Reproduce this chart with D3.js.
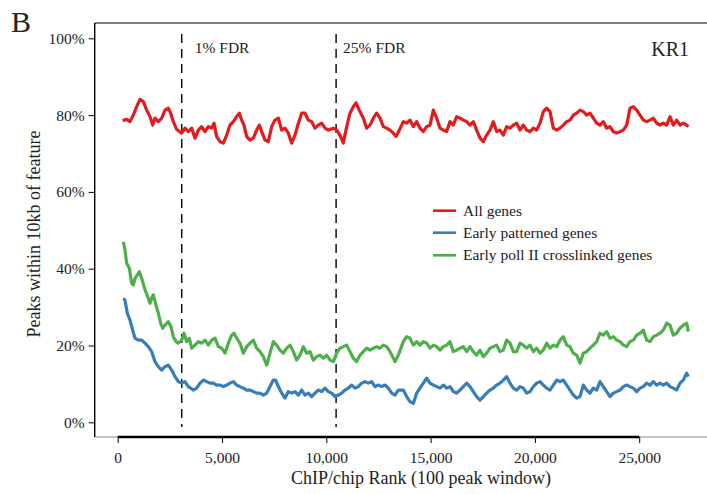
<!DOCTYPE html>
<html><head><meta charset="utf-8">
<script src="https://cdn.jsdelivr.net/npm/d3@7/dist/d3.min.js"></script>
<style>body{margin:0;background:#fff}svg{display:block;font-family:"Liberation Serif","Times New Roman",serif}</style>
</head><body><svg id="c" width="707" height="494"></svg>
<script>
// ---- data ----
const seriesNames = ["All genes", "Early patterned genes", "Early poll II crosslinked genes"];
const seriesColors = ["#E41A1C", "#377EB8", "#4DAF4A"];
const xTicks = [0, 5000, 10000, 15000, 20000, 25000];
const yTicks = [0, 20, 40, 60, 80, 100];
const fdrRanks = [3070, 10470];
const fdrLabels = ["1% FDR", "25% FDR"];

// first part of each curve: [rank, percent]
const redHead = [[238,78.5],[430,78.9],[590,78.3],[749,80.0],[909,82.2],[1069,84.1],[1229,83.5],[1389,81.3],[1548,79.6],[1676,77.4],[1788,79.2],[1948,78.3],[2108,79.2],[2268,81.3],[2427,81.8],[2539,80.5],[2667,78.3],[2827,76.3],[3067,75.3],[3226,76.6],[3386,75.7],[3546,76.6],[3706,74.0],[3866,76.1],[4025,77.0],[4185,75.7],[4345,77.0],[4505,76.6],[4617,77.9],[4745,74.4],[4904,73.1],[5064,72.7],[5224,74.8],[5384,77.4],[5543,78.3],[5703,79.6],[5831,80.5],[5943,78.7],[6055,77.4],[6183,74.4],[6343,73.5],[6502,74.0],[6662,76.1],[6790,77.4],[6902,75.7],[7062,73.5],[7221,73.1],[7381,77.0],[7541,78.7],[7701,79.2],[7861,76.1],[8020,76.6],[8180,75.3],[8340,72.7],[8500,74.8],[8659,77.9],[8819,80.5],[8979,80.5],[9139,78.7],[9299,78.3],[9459,76.6],[9618,77.4],[9778,77.9],[9938,76.6],[10098,76.1],[10337,76.6],[10497,76.1],[10657,74.8],[10817,72.7],[10977,77.0],[11136,80.5],[11296,82.2],[11424,83.2],[11584,81.3],[11776,79.2],[11936,76.6],[12095,77.4],[12255,79.2],[12415,80.5],[12575,79.2],[12734,77.0],[12894,76.6],[13054,76.1],[13214,75.3],[13342,74.4],[13502,76.1]];
const blueHead = [[270,32.3],[350,31.8],[462,28.4],[590,26.6],[717,24.0],[829,21.9],[989,21.4],[1149,21.4],[1309,20.6],[1469,19.7],[1628,18.4],[1788,15.8],[1948,14.5],[2108,13.6],[2268,14.5],[2427,14.9],[2587,13.6],[2747,11.9],[2907,10.6],[3067,10.2],[3226,10.6],[3386,9.3],[3626,8.4],[3786,8.9],[3946,10.2],[4105,11.0],[4265,10.6],[4425,10.2],[4585,10.2],[4744,9.7],[4904,9.7],[5064,9.3],[5224,9.7],[5384,10.2],[5543,10.6],[5703,9.7],[5863,9.3],[6023,8.9],[6183,8.4],[6342,8.4],[6502,8.0],[6662,7.6],[6822,7.6],[6982,7.1],[7142,7.6],[7302,9.3],[7461,11.0],[7573,11.0],[7701,9.3],[7861,7.6],[8020,6.3],[8180,8.0],[8340,7.6],[8500,8.0],[8660,7.1],[8820,8.4],[8979,7.1],[9139,7.6],[9299,6.7],[9459,7.6],[9619,8.4],[9778,8.0],[9938,8.9],[10098,8.0],[10258,7.6],[10417,6.7],[10577,7.1],[10737,7.6],[10897,8.4],[11057,8.9],[11217,9.7],[11376,8.9],[11536,9.3],[11696,10.2],[11856,10.6],[12015,10.2],[12175,10.6],[12335,9.3],[12495,9.7],[12655,9.3],[12814,9.7],[12974,8.9],[13134,7.6],[13294,7.1],[13454,8.4]];
const greenHead = [[270,47.0],[350,44.9],[430,41.4],[558,40.1],[670,36.2],[750,35.8],[829,37.5],[941,38.4],[1037,39.2],[1149,37.5],[1309,34.5],[1469,32.3],[1549,31.0],[1628,32.3],[1708,33.2],[1836,30.5],[1948,28.4],[2060,25.8],[2156,24.5],[2268,25.3],[2427,26.2],[2555,24.9],[2667,22.3],[2795,21.0],[2907,20.6],[3067,21.4],[3178,23.2],[3306,21.0],[3434,21.9],[3546,19.3],[3706,20.1],[3866,21.0],[4025,20.6],[4185,21.4],[4345,20.1],[4505,21.4],[4665,21.9],[4824,19.7],[4984,19.3],[5144,18.0],[5304,20.6],[5464,22.7],[5575,23.2],[5703,21.9],[5863,20.6],[6023,18.0],[6183,19.7],[6342,20.6],[6502,21.4],[6662,19.3],[6822,18.4],[6982,17.1],[7142,14.9],[7302,18.0],[7461,21.0],[7621,20.1],[7781,18.8],[7941,18.0],[8100,19.3],[8260,20.1],[8420,18.4],[8580,16.2],[8740,17.5],[8900,19.7],[9059,18.0],[9219,18.4],[9379,16.2],[9539,17.1],[9698,17.5],[9858,16.7],[10018,17.5],[10178,16.2],[10338,15.8],[10497,18.0],[10657,19.3],[10817,19.7],[10977,20.1],[11137,18.4],[11296,16.7],[11456,15.8],[11616,17.5],[11776,18.4],[11936,19.3],[12095,18.8],[12255,19.3],[12415,19.7],[12575,19.3],[12735,20.1],[12894,19.7],[13054,18.4],[13214,16.7],[13294,15.8],[13454,17.5]];

// second part of each curve: shared ranks, then percent per series
const tailRanks = [13693,13853,14012,14172,14332,14492,14652,14811,14971,15131,15291,15451,15610,15770,15930,16090,16250,16409,16569,16729,16889,17049,17208,17368,17528,17688,17848,18007,18167,18327,18487,18647,18806,18966,19126,19286,19446,19605,19765,19925,20085,20245,20404,20564,20724,20884,21044,21203,21363,21523,21683,21843,22002,22162,22322,22482,22642,22801,22961,23121,23281,23441,23600,23760,23920,24080,24240,24399,24559,24719,24879,25039,25198,25358,25518,25678,25838,25997,26157,26317,26477,26637,26796,26956,27116,27276,27356];
const redTail = [78.3,77.9,78.7,77.0,78.3,76.6,75.7,77.0,77.4,81.3,79.2,76.6,76.1,75.7,78.3,77.4,79.6,79.2,78.7,78.3,77.4,78.3,76.1,74.0,73.1,74.8,76.1,78.3,75.7,76.1,74.8,77.0,76.6,77.4,77.9,76.1,77.4,76.1,75.7,76.6,76.1,77.9,80.9,81.8,80.9,76.6,76.1,76.6,77.4,78.3,78.7,80.0,80.5,81.3,80.9,80.0,80.5,79.2,77.9,77.4,78.3,76.6,77.0,75.7,75.3,75.7,76.1,77.4,81.8,82.2,81.3,80.0,78.7,78.3,78.7,79.2,77.9,77.4,77.9,77.4,79.6,77.4,78.7,77.4,77.9,77.4,77.0];
const blueTail = [8.4,6.7,5.4,4.9,7.6,8.9,10.2,11.5,10.2,9.7,9.3,8.9,9.7,8.9,9.3,8.0,7.6,8.4,9.3,10.2,9.3,8.0,6.7,5.8,6.7,7.6,8.4,8.9,9.7,10.2,11.0,11.9,10.2,8.9,8.4,9.3,8.9,7.6,8.0,9.3,10.2,10.6,9.7,8.9,8.4,9.7,11.0,10.6,11.0,9.7,8.4,7.1,6.3,6.7,9.7,8.4,7.6,8.9,8.4,10.6,9.3,8.0,6.7,7.6,8.0,8.4,9.3,9.7,9.3,8.9,8.0,8.9,9.3,10.2,9.7,10.6,9.7,10.2,9.7,10.2,9.3,8.9,8.4,10.2,11.0,12.8,11.9];
const greenTail = [21.0,22.3,21.9,20.1,21.0,20.1,21.0,20.6,19.3,20.1,19.7,18.8,19.7,20.1,21.0,18.4,18.8,19.3,19.7,18.4,19.7,18.4,17.5,18.8,17.1,18.0,19.3,19.7,20.1,18.4,18.8,21.4,20.6,18.4,18.4,20.6,20.1,19.3,20.1,18.4,19.3,18.0,18.8,20.6,19.3,20.1,19.7,21.4,22.3,20.1,19.7,18.0,17.5,15.4,18.0,18.4,19.3,20.1,21.0,23.2,22.7,23.6,21.9,22.3,21.4,21.0,20.1,19.7,21.0,21.4,22.7,23.2,24.0,21.4,21.0,22.3,22.7,23.2,24.0,25.8,25.3,22.7,23.2,24.5,25.3,25.8,23.6];

// ---- drawing ----
const svg = d3.select("#c");
const x = d3.scaleLinear().domain([0, 25000]).range([117.7, 639.2]);
const y = d3.scaleLinear().domain([0, 100]).range([422.3, 38.3]);
const ink = "#222";

const frame = {left: 94.7, top: 23, right: 707, bottom: 437};

// frame lines
svg.append("line").attr("x1", frame.left).attr("x2", frame.right).attr("y1", frame.top).attr("y2", frame.top)
  .attr("stroke", "#000").attr("stroke-width", 1.2);
svg.append("line").attr("x1", frame.left).attr("x2", frame.left).attr("y1", frame.top).attr("y2", frame.bottom)
  .attr("stroke", "#000").attr("stroke-width", 1.4);
svg.append("line").attr("x1", frame.left).attr("x2", frame.right).attr("y1", frame.bottom).attr("y2", frame.bottom)
  .attr("stroke", "#888").attr("stroke-width", 1.2);

// x axis
const xAxis = d3.axisBottom(x).tickValues(xTicks).tickSize(6).tickPadding(9)
  .tickFormat(d3.format(","));
const gx = svg.append("g").attr("transform", `translate(0,${frame.bottom})`).call(xAxis);
gx.select(".domain").attr("d", `M${x(0)},0H${x(25000)}`).attr("stroke", "#000").attr("stroke-width", 2.4);
gx.selectAll(".tick line").attr("stroke", "#000");
gx.selectAll(".tick text").attr("font-size", 15.5).attr("fill", ink).attr("font-family", "Liberation Serif");

// y axis
const yAxis = d3.axisLeft(y).tickValues(yTicks).tickSize(6).tickPadding(4).tickFormat(d => d + "%");
const gy = svg.append("g").attr("transform", `translate(${frame.left},0)`).call(yAxis);
gy.select(".domain").remove();
gy.selectAll(".tick line").attr("stroke", "#000");
gy.selectAll(".tick text").attr("font-size", 15.5).attr("fill", ink).attr("font-family", "Liberation Serif");

// titles
svg.append("text").attr("x", 421).attr("y", 484).attr("text-anchor", "middle")
  .attr("font-size", 18).attr("fill", ink).text("ChIP/chip Rank (100 peak window)");
svg.append("text").attr("transform", "translate(40,234) rotate(-90)").attr("text-anchor", "middle")
  .attr("font-size", 18).attr("fill", ink).text("Peaks within 10kb of feature");
svg.append("text").attr("x", 11).attr("y", 32).attr("font-size", 30).attr("fill", ink).text("B");
svg.append("text").attr("x", 689).attr("y", 56).attr("text-anchor", "end").attr("font-size", 20).attr("fill", ink).text("KR1");

// FDR dashed lines
const labelOffsets = [13, 7];
fdrRanks.forEach((r, i) => {
  svg.append("line").attr("x1", x(r)).attr("x2", x(r)).attr("y1", 34).attr("y2", 427)
    .attr("stroke", "#000").attr("stroke-width", 1.4).attr("stroke-dasharray", "9,6");
  svg.append("text").attr("x", x(r) + labelOffsets[i]).attr("y", 53).attr("font-size", 15.5)
    .attr("fill", ink).text(fdrLabels[i]);
});

// curves
const heads = [redHead, blueHead, greenHead];
const tails = [redTail, blueTail, greenTail];
const line = d3.line().x(d => x(d[0])).y(d => y(d[1])).curve(d3.curveLinear);
[2, 1, 0].forEach(i => {
  const pts = heads[i].concat(tailRanks.map((r, k) => [r, tails[i][k]]));
  svg.append("path").datum(pts).attr("d", line).attr("fill", "none")
    .attr("stroke", seriesColors[i]).attr("stroke-width", 3.2).attr("stroke-linejoin", "round");
});

// legend
const legY = [210.7, 232.7, 255.3];
seriesNames.forEach((name, i) => {
  svg.append("line").attr("x1", 433).attr("x2", 456).attr("y1", legY[i]).attr("y2", legY[i])
    .attr("stroke", seriesColors[i]).attr("stroke-width", 2.6);
  svg.append("text").attr("x", 463).attr("y", legY[i] + 5).attr("font-size", 15.5).attr("fill", ink).text(name);
});
</script></body></html>
